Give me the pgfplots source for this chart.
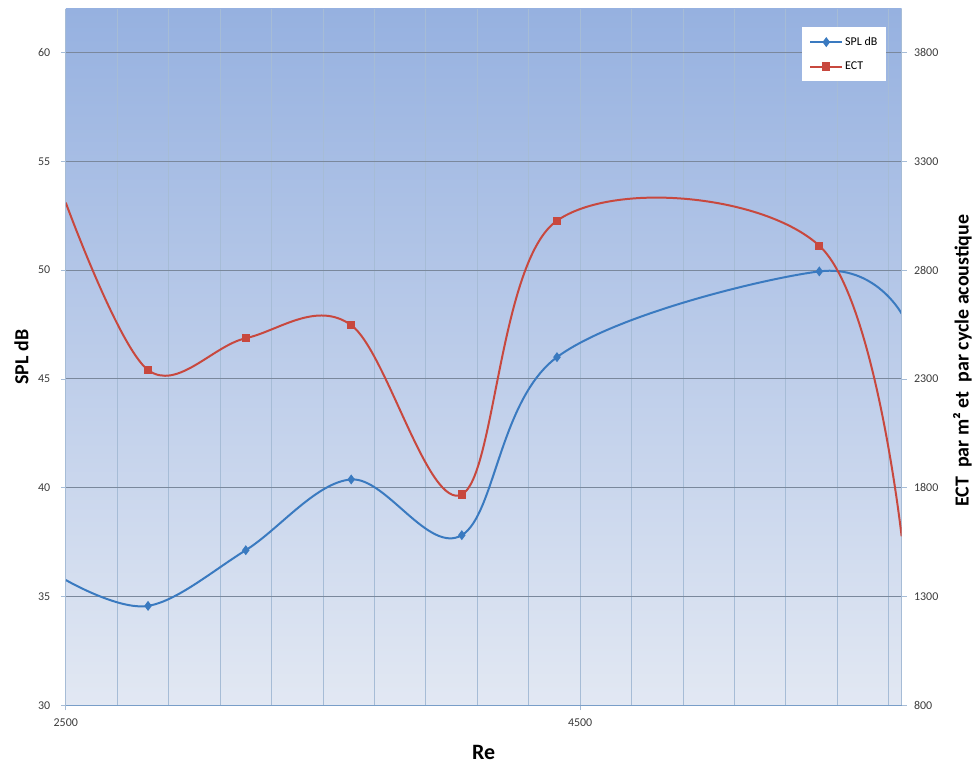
\documentclass[border=0pt]{standalone}
\usepackage{fontspec}
\setmainfont{Carlito}
\usepackage{pgfplots}
\pgfplotsset{compat=1.18}
\definecolor{splblue}{RGB}{58,122,192}
\definecolor{ectred}{RGB}{200,72,62}
\definecolor{bgtop}{RGB}{150,177,224}
\definecolor{bgbot}{RGB}{226,232,243}
\definecolor{hgrid}{RGB}{122,136,156}
\definecolor{vgrid}{RGB}{166,188,214}
\definecolor{axcol}{RGB}{120,158,200}
\definecolor{ticklab}{RGB}{60,60,60}
\pgfplotsset{
  common/.style={
    scale only axis, width=839pt, height=699pt,
    xmin=2500, xmax=5750,
    /pgf/number format/assume math mode=true,
    /pgf/number format/1000 sep={},
    tick align=outside, major tick length=5pt, minor tick length=0pt,
    tick style={vgrid, line width=0.8pt},
    ticklabel style={font=\fontsize{12}{12}\selectfont, text=ticklab},
  }
}
\begin{document}
\begin{tikzpicture}
\begin{axis}[common,
  ymin=30, ymax=62, ytick={30,35,...,60},
  xtick={2500,4500}, minor xtick={2700,2900,...,5700},
  xmajorgrids, xminorgrids, ymajorgrids,
  major x grid style={vgrid, line width=0.8pt},
  minor x grid style={vgrid, line width=0.8pt},
  major y grid style={hgrid, line width=1.1pt},
  axis background/.style={top color=bgtop, bottom color=bgbot},
  axis x line*=bottom, axis y line*=left,
  x axis line style={axcol, line width=1.3pt},
  y axis line style={vgrid, line width=1pt},
  xticklabel style={yshift=-5pt},
  yticklabel style={xshift=-7pt},
  xlabel={\textbf{Re}},
  xlabel style={font=\fontsize{22}{22}\selectfont, at={(axis description cs:0.5,-0.0672)}, anchor=center},
  ylabel={\textbf{SPL dB}},
  ylabel style={font=\fontsize{20}{20}\selectfont, at={(axis description cs:-0.053,0.5)}, anchor=center},
]
\addplot[splblue, line width=2pt, smooth, tension=0.58, mark=diamond*, mark size=3.4pt, mark indices={2,3,4,5,6,7}, mark options={solid, fill=splblue, draw=splblue}]
  coordinates {(2500,35.76) (2820,34.57) (3200,37.13) (3610,40.38) (4040,37.82) (4410,46.0) (5430,49.94) (5750,48.0)};
\coordinate (sw) at (rel axis cs:0,0);
\coordinate (ne) at (rel axis cs:1,1);
\end{axis}
\begin{axis}[common,
  ymin=800, ymax=4000, ytick={800,1300,...,3800},
  axis y line*=right, axis x line=none,
  y axis line style={vgrid, line width=1pt},
  yticklabel style={xshift=4pt},
  ylabel={\textbf{ECT\ \ par m² et\ \ par cycle acoustique}},
  ylabel style={font=\fontsize{20}{20}\selectfont, at={(axis description cs:1.0727,0.495)}, anchor=center},
  legend style={at={(axis description cs:0.982,0.974)}, anchor=north east, draw=none, fill=white,
    font=\fontsize{12}{12}\selectfont, row sep=11pt, inner xsep=7pt, inner ysep=8pt},
  legend cell align=left,
  legend image code/.code={\draw[mark indices={2}] plot coordinates {(0pt,0pt) (16pt,0pt) (32pt,0pt)};},
]
\addlegendimage{splblue, line width=2pt, mark=diamond*, mark size=3.4pt, mark options={solid, fill=splblue, draw=splblue}}
\addlegendentry{SPL dB}
\addplot[ectred, line width=2pt, smooth, tension=0.58, mark=square*, mark size=3.2pt, mark indices={2,3,4,5,6,7}, mark options={solid, fill=ectred, draw=ectred}]
  coordinates {(2500,3110) (2820,2341) (3200,2487) (3610,2547) (4040,1769) (4410,3027) (5430,2912) (5750,1577)};
\addlegendentry{ECT}
\end{axis}
\path ([shift={(-66pt,-61pt)}]sw) rectangle ([shift={(70pt,9pt)}]ne);
\end{tikzpicture}
\end{document}
